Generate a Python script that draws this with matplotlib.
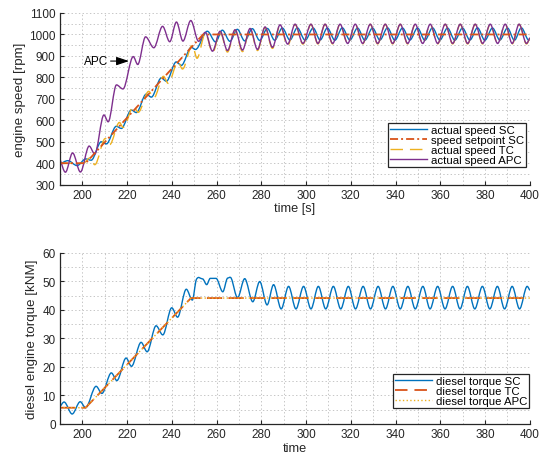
import numpy as np
import matplotlib
matplotlib.use('Agg')
import matplotlib.pyplot as plt
from matplotlib.path import Path
from matplotlib.patches import PathPatch
from matplotlib.lines import Line2D
from matplotlib.ticker import MultipleLocator

plt.rcParams['font.family'] = ['Liberation Sans', 'DejaVu Sans']
plt.rcParams['lines.scale_dashes'] = False

# ---- engine speed [rpm] ----
sp_time = [190, 201.5, 254.0, 400]
sp_rpm = [400, 400, 1000, 1000]

sc_time = [190, 193.6, 197.7, 201.6, 204.0, 208.5, 210.8, 215.2, 217.5, 221.9,
           224.2, 228.6, 230.9, 235.3, 237.6, 242.0, 244.3, 248.7, 250.6, 255.9,
           259.6, 262.6, 266.0, 269.3, 272.6, 276.0, 279.3, 282.7, 286.0, 289.4,
           292.8, 296.1, 299.6, 303.2, 306.3, 309.5, 312.9, 316.2, 319.6, 323.0,
           326.3, 329.7, 333.0, 336.4, 339.7, 343.1, 346.4, 349.8, 353.1, 356.5,
           359.8, 363.2, 366.5, 369.9, 373.2, 376.6, 379.9, 383.3, 386.6, 390.0,
           393.1, 396.2, 399.5, 400]
sc_rpm = [396, 412, 389, 420, 414, 500, 490, 572, 562, 648,
          636, 722, 708, 797, 782, 872, 856, 940, 930, 1015,
          965, 1020, 968, 1024, 970, 1027, 972, 1028, 973, 1030,
          974, 1031, 973, 1030, 974, 1030, 973, 1031, 974, 1030,
          973, 1030, 974, 1031, 973, 1030, 974, 1030, 973, 1031,
          974, 1030, 973, 1030, 974, 1031, 973, 1030, 974, 1030,
          973, 1031, 974, 977]

tc_time = [190, 200.5, 203.5, 205.6, 210.3, 212.3, 216.6, 218.3, 223.0, 225.0,
           229.7, 232.0, 236.3, 238.4, 242.8, 244.8, 249.2, 251.3, 255.0, 258.3,
           261.6, 264.9, 268.3, 271.6, 275.0, 278.3, 281.7, 285.0, 288.4, 291.8,
           295.1, 298.6, 302.2, 305.3, 308.5, 311.9, 315.2, 318.6, 322.0, 325.3,
           328.7, 332.0, 335.4, 338.7, 342.1, 345.4, 348.8, 352.1, 355.5, 358.8,
           362.2, 365.5, 368.9, 372.2, 375.6, 378.9, 382.3, 385.6, 389.0, 392.1,
           395.2, 398.5, 400]
tc_rpm = [400, 400, 425, 393, 515, 487, 590, 567, 665, 637,
          735, 704, 805, 772, 872, 839, 950, 889, 1005, 915,
          1012, 918, 1020, 920, 1027, 925, 1033, 935, 1043, 948,
          1046, 955, 1047, 956, 1047, 956, 1047, 956, 1047, 956,
          1047, 956, 1047, 956, 1047, 956, 1047, 956, 1047, 956,
          1047, 956, 1047, 956, 1047, 956, 1047, 956, 1047, 956,
          1047, 956, 983]

apc_time = [190, 192.5, 195.7, 199.2, 203.1, 205.6, 209.7, 211.6, 215.3, 218.2,
            222.8, 224.8, 228.3, 232.0, 235.9, 239.1, 242.1, 245.0, 248.5, 252.0,
            255.0, 258.2, 261.6, 264.9, 268.3, 271.6, 275.0, 278.3, 281.7, 285.0,
            288.4, 291.8, 295.1, 298.6, 302.2, 305.3, 308.5, 311.9, 315.2, 318.6,
            322.0, 325.3, 328.7, 332.0, 335.4, 338.7, 342.1, 345.4, 348.8, 352.1,
            355.5, 358.8, 362.2, 365.5, 368.9, 372.2, 375.6, 378.9, 382.3, 385.6,
            389.0, 392.1, 395.2, 398.5, 400]
apc_rpm = [420, 358, 448, 359, 480, 443, 625, 593, 765, 746,
           897, 860, 989, 938, 1038, 966, 1058, 969, 1065, 968,
           1010, 922, 1015, 925, 1022, 927, 1028, 930, 1035, 940,
           1045, 955, 1048, 958, 1048, 958, 1048, 958, 1048, 958,
           1048, 958, 1048, 958, 1048, 958, 1048, 958, 1048, 958,
           1048, 958, 1048, 958, 1048, 958, 1048, 958, 1048, 958,
           1048, 958, 1048, 958, 985]

# ---- diesel engine torque [kNM] ----
tq_sc_time = [190, 191.9, 195.5, 199.1, 201.5, 206.2, 208.8, 213.0, 215.5, 219.6,
              222.0, 226.3, 229.0, 233.0, 236.0, 240.0, 242.6, 246.5, 249.2, 251.0,
              253.8, 255.6, 257.2, 259.8, 262.8, 265.0, 266.6, 269.4, 272.6, 276.2,
              279.3, 282.6, 285.5, 288.9, 292.2, 295.5, 298.9, 302.2, 305.5, 308.8,
              312.2, 315.5, 318.9, 322.1, 325.5, 328.8, 332.2, 335.5, 338.8, 342.1,
              345.5, 348.8, 352.2, 355.4, 358.8, 362.1, 365.5, 368.8, 372.1, 375.4,
              378.8, 382.1, 385.5, 388.7, 392.1, 395.4, 398.8, 400]
tq_sc = [6.0, 7.7, 3.5, 7.8, 5.7, 13.2, 10.7, 17.9, 15.2, 23.1,
         20.2, 28.6, 25.3, 34.4, 31.2, 40.7, 37.4, 47.2, 43.4, 50.6,
         50.8, 48.8, 51.0, 51.0, 46.3, 51.1, 51.0, 44.2, 50.9, 42.8,
         49.9, 41.7, 48.8, 40.3, 48.2, 40.3, 48.2, 40.3, 48.2, 40.3,
         48.2, 40.3, 48.2, 40.3, 48.2, 40.3, 48.2, 40.3, 48.2, 40.3,
         48.2, 40.3, 48.2, 40.3, 48.2, 40.3, 48.2, 40.3, 48.2, 40.3,
         48.2, 40.3, 48.2, 40.3, 48.2, 40.3, 48.2, 46.8]

tq_tc_time = [190, 201.5, 248.6, 400]
tq_tc = [5.7, 5.7, 44.1, 44.1]
tq_apc_time = [190, 201.5, 248.6, 400]
tq_apc = [5.7, 5.7, 44.1, 44.1]

BLUE = '#0072BD'
ORANGE = '#D95319'
YELLOW = '#EDB120'
PURPLE = '#7E2F8E'
AXC = '#262626'

DASHDOT = (0, (5.8, 2.2, 1.4, 2.2))
DASHED = (0, (9, 5))
LONGDASH = (0, (11, 4.5))


def smooth_path(t, v):
    # cubic Hermite curve through the samples, flat tangent at local extrema
    t = np.asarray(t, float)
    v = np.asarray(v, float)
    n = len(t)
    s = np.zeros(n)
    for i in range(n):
        if i == 0:
            s[i] = (v[1] - v[0]) / (t[1] - t[0])
        elif i == n - 1:
            s[i] = (v[-1] - v[-2]) / (t[-1] - t[-2])
        elif (v[i] - v[i - 1]) * (v[i + 1] - v[i]) <= 0:
            s[i] = 0.0
        else:
            s[i] = (v[i + 1] - v[i - 1]) / (t[i + 1] - t[i - 1])
    verts = [(t[0], v[0])]
    codes = [Path.MOVETO]
    for i in range(n - 1):
        h = t[i + 1] - t[i]
        verts += [(t[i] + h / 3, v[i] + s[i] * h / 3),
                  (t[i + 1] - h / 3, v[i + 1] - s[i + 1] * h / 3),
                  (t[i + 1], v[i + 1])]
        codes += [Path.CURVE4] * 3
    return Path(verts, codes)


def add_curve(ax, t, v, color, lw, ls='-'):
    patch = PathPatch(smooth_path(t, v), fill=False, edgecolor=color, lw=lw,
                      linestyle=ls, capstyle='butt', joinstyle='round')
    ax.add_patch(patch)


def style_axes(ax, ymin, ymax, ystep):
    ax.set_xlim(190, 400)
    ax.set_ylim(ymin, ymax)
    ax.xaxis.set_major_locator(MultipleLocator(20))
    ax.xaxis.set_minor_locator(MultipleLocator(10))
    ax.yaxis.set_major_locator(MultipleLocator(ystep))
    ax.yaxis.set_minor_locator(MultipleLocator(ystep / 2))
    ax.grid(which='both', linestyle=':', color='#c6c6c6', linewidth=0.7)
    ax.set_axisbelow(True)
    for side in ['top', 'right']:
        ax.spines[side].set_visible(False)
    for side in ['left', 'bottom']:
        ax.spines[side].set_color(AXC)
        ax.spines[side].set_linewidth(0.9)
    ax.tick_params(which='major', direction='in', length=3, width=0.8,
                   colors=AXC, labelsize=8.5, pad=3)
    ax.tick_params(which='minor', length=0)


def boxed_legend(ax, handles, labels, anchor):
    leg = ax.legend(handles, labels, loc='lower right', bbox_to_anchor=anchor,
                    borderaxespad=0, fontsize=8.2, handlelength=3.3,
                    handletextpad=0.3, labelspacing=0.0, borderpad=0.18,
                    fancybox=False, framealpha=1, edgecolor=AXC)
    leg.get_frame().set_linewidth(0.9)
    return leg


fig = plt.figure(figsize=(5.44, 4.56), dpi=100)
ax1 = fig.add_axes([0.110, 0.5928, 0.864, 0.3765])
ax2 = fig.add_axes([0.110, 0.0680, 0.864, 0.3757])

# top: engine speed
style_axes(ax1, 300, 1100, 100)
add_curve(ax1, sc_time, sc_rpm, BLUE, 1.0)
ax1.plot(sp_time, sp_rpm, color=ORANGE, lw=1.3, linestyle=DASHDOT)
add_curve(ax1, tc_time, tc_rpm, YELLOW, 1.0, DASHED)
add_curve(ax1, apc_time, apc_rpm, PURPLE, 1.0)
ax1.set_xlabel('time [s]', fontsize=9.2, color=AXC, labelpad=1)
ax1.set_ylabel('engine speed [rpm]', fontsize=9.6, color=AXC, labelpad=2)
ax1.annotate('APC', xy=(220.9, 876), xytext=(200.6, 876), fontsize=8.5,
             va='center', ha='left', color='k',
             arrowprops=dict(arrowstyle='-|>,head_length=0.9,head_width=0.3',
                             color='k', lw=0.8, shrinkA=0, shrinkB=0))

h1 = [Line2D([], [], color=BLUE, lw=1.0),
      Line2D([], [], color=ORANGE, lw=1.3, linestyle=DASHDOT),
      Line2D([], [], color=YELLOW, lw=1.0, linestyle=DASHED),
      Line2D([], [], color=PURPLE, lw=1.0)]
lab1 = ['actual speed SC', 'speed setpoint SC', 'actual speed TC', 'actual speed APC']
boxed_legend(ax1, h1, lab1, (0.9915, 0.103))

# bottom: diesel engine torque
style_axes(ax2, 0, 60, 10)
add_curve(ax2, tq_sc_time, tq_sc, BLUE, 1.0)
ax2.plot(tq_tc_time, tq_tc, color=ORANGE, lw=1.3, linestyle=LONGDASH)
ax2.plot(tq_apc_time, tq_apc, color=YELLOW, lw=1.0, linestyle=':')
ax2.set_xlabel('time', fontsize=9.2, color=AXC, labelpad=1)
ax2.set_ylabel('diesel engine torque [kNM]', fontsize=9.6, color=AXC, labelpad=3)

h2 = [Line2D([], [], color=BLUE, lw=1.0),
      Line2D([], [], color=ORANGE, lw=1.3, linestyle=DASHED),
      Line2D([], [], color=YELLOW, lw=1.0, linestyle=':')]
lab2 = ['diesel torque SC', 'diesel torque TC', 'diesel torque APC']
boxed_legend(ax2, h2, lab2, (0.9986, 0.092))

fig.savefig('out.png', dpi=100)
